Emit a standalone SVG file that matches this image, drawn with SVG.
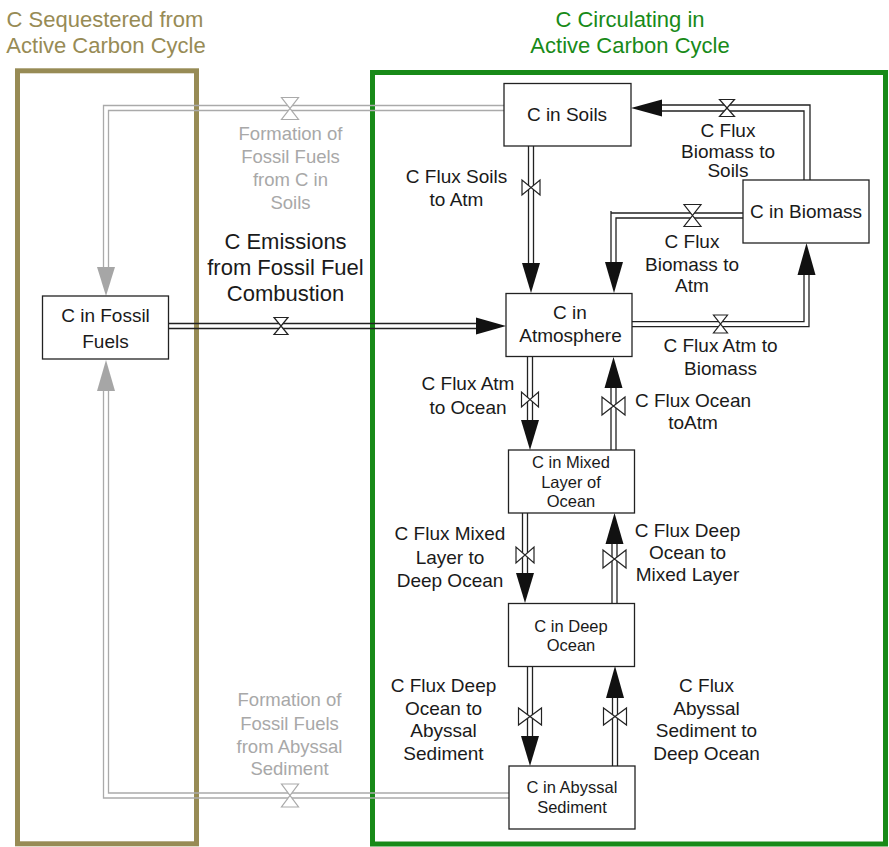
<svg xmlns="http://www.w3.org/2000/svg" width="889" height="847" viewBox="0 0 889 847">
<style>
text{font-family:"Liberation Sans",Arial,Helvetica,sans-serif;text-anchor:middle;fill:#1a1a1a}
.title{font-size:22px}
.tan{fill:#978b55}
.grn{fill:#188a18}
.em{font-size:22px}
.lbl{font-size:19px}
.gl{font-size:18.5px;fill:#a8a8a8}
.nl{font-size:19px}
.ns{font-size:16.5px}
.box{fill:#fff;stroke:#222;stroke-width:1.3}
.p{fill:none;stroke:#222;stroke-width:1.3}
.pg{fill:none;stroke:#aaa;stroke-width:1.3}
.ah{fill:#111;stroke:none}
.ahg{fill:#a6a6a6;stroke:none}
.v{fill:#fff;stroke:#222;stroke-width:1.2}
.vg{fill:#fff;stroke:#aaa;stroke-width:1.2}
</style>

<g id="boundaries">
<rect x="17.5" y="70.8" width="179" height="773" fill="none" stroke="#978b55" stroke-width="5"/>
<rect x="372.5" y="72.5" width="513" height="771.5" fill="none" stroke="#188a18" stroke-width="5"/>
</g>

<g id="titles">
<text class="title tan" x="105" y="27">C Sequestered from</text>
<text class="title tan" x="106" y="53">Active Carbon Cycle</text>
<text class="title grn" x="630" y="27">C Circulating in</text>
<text class="title grn" x="630" y="53">Active Carbon Cycle</text>
</g>

<g id="connectors">
<!-- emissions -->
<path class="p" d="M168,323.5 H478 M168,328.5 H478"/>
<path class="ah" d="M476,317.5 L506,326 L476,334.5 Z"/>
<path class="v" d="M274,317.5 H288 L274,334.5 H288 Z"/>
<!-- soils to atm -->
<path class="p" d="M528.5,146 V264 M533.5,146 V264"/>
<path class="ah" d="M522,263 L540,263 L531,293 Z"/>
<path class="v" d="M522,180 V195 L540,180 V195 Z"/>
<!-- biomass to soils -->
<path class="p" d="M810,180 V105 H662 M804,180 V111 H662"/>
<path class="ah" d="M662,99.5 L631,108 L662,116.5 Z"/>
<path class="v" d="M719.5,99.5 H734.5 L719.5,116.5 H734.5 Z"/>
<!-- biomass to atm -->
<path class="p" d="M743,213 H611 M611,211 V263 M743,218 H616 V263"/>
<path class="ah" d="M605,262 L623,262 L614,293 Z"/>
<path class="v" d="M684,204.5 H701 L684,226.5 H701 Z"/>
<!-- atm to biomass -->
<path class="p" d="M632,326.7 H809 V274 M632,321.7 H804 V274"/>
<path class="ah" d="M797.5,275 L815.5,275 L806.5,243 Z"/>
<path class="v" d="M713.5,315 H727.5 L713.5,333 H727.5 Z"/>
<!-- atm to mixed -->
<path class="p" d="M527.5,357 V421 M532.5,357 V421"/>
<path class="ah" d="M521,420 L539,420 L530,450 Z"/>
<path class="v" d="M521.5,392 V407 L538.5,392 V407 Z"/>
<!-- ocean to atm -->
<path class="p" d="M611,450 V387 M616,450 V387"/>
<path class="ah" d="M604.5,388 L622.5,388 L613.5,357 Z"/>
<path class="v" d="M602,397 V415 L625,397 V415 Z"/>
<!-- mixed to deep -->
<path class="p" d="M522.5,513 V574 M527.5,513 V574"/>
<path class="ah" d="M516,573 L534,573 L525,603 Z"/>
<path class="v" d="M516,547 V563 L534,547 V563 Z"/>
<!-- deep to mixed -->
<path class="p" d="M612,603 V543 M617,603 V543"/>
<path class="ah" d="M605.5,544 L623.5,544 L614.5,513 Z"/>
<path class="v" d="M603,550 V568 L626,550 V568 Z"/>
<!-- deep to abyssal -->
<path class="p" d="M527.5,666 V737 M532.5,666 V737"/>
<path class="ah" d="M521,736 L539,736 L530,766 Z"/>
<path class="v" d="M518.5,708 V725 L541.5,708 V725 Z"/>
<!-- abyssal to deep -->
<path class="p" d="M612.5,766 V697 M617.5,766 V697"/>
<path class="ah" d="M606,698 L624,698 L615,666 Z"/>
<path class="v" d="M603.5,708 V725 L626.5,708 V725 Z"/>
<!-- soils to fossil (gray) -->
<path class="pg" d="M504,105.5 H103.5 V268 M504,110.5 H108.5 V268"/>
<path class="ahg" d="M97,267 L115,267 L106,296 Z"/>
<path class="vg" d="M281.5,97.5 H298.5 L281.5,119.5 H298.5 Z"/>
<!-- abyssal to fossil (gray) -->
<path class="pg" d="M509,798 H103.5 V390 M509,793 H108.5 V390"/>
<path class="ahg" d="M97,391 L115,391 L106,360 Z"/>
<path class="vg" d="M281.5,784 H298.5 L281.5,807 H298.5 Z"/>
</g>

<g id="flux-labels">
<text class="em" x="285.5" y="248.5">C Emissions</text>
<text class="em" x="285.5" y="274.5">from Fossil Fuel</text>
<text class="em" x="285.5" y="301">Combustion</text>
<text class="lbl" x="456.5" y="183">C Flux Soils</text>
<text class="lbl" x="456.5" y="205.5">to Atm</text>
<text class="lbl" x="728" y="137">C Flux</text>
<text class="lbl" x="728" y="158">Biomass to</text>
<text class="lbl" x="728" y="177">Soils</text>
<text class="lbl" x="692" y="247.5">C Flux</text>
<text class="lbl" x="692" y="271">Biomass to</text>
<text class="lbl" x="692" y="292">Atm</text>
<text class="lbl" x="720.5" y="352">C Flux Atm to</text>
<text class="lbl" x="720.5" y="375">Biomass</text>
<text class="lbl" x="468" y="390">C Flux Atm</text>
<text class="lbl" x="468" y="413.5">to Ocean</text>
<text class="lbl" x="693" y="407">C Flux Ocean</text>
<text class="lbl" x="693" y="428.5">toAtm</text>
<text class="lbl" x="450" y="540">C Flux Mixed</text>
<text class="lbl" x="450" y="563.5">Layer to</text>
<text class="lbl" x="450" y="586.5">Deep Ocean</text>
<text class="lbl" x="687.5" y="537">C Flux Deep</text>
<text class="lbl" x="687.5" y="558.5">Ocean to</text>
<text class="lbl" x="687.5" y="581">Mixed Layer</text>
<text class="lbl" x="443.5" y="692">C Flux Deep</text>
<text class="lbl" x="443.5" y="714.5">Ocean to</text>
<text class="lbl" x="443.5" y="737">Abyssal</text>
<text class="lbl" x="443.5" y="760">Sediment</text>
<text class="lbl" x="706.5" y="692">C Flux</text>
<text class="lbl" x="706.5" y="714.5">Abyssal</text>
<text class="lbl" x="706.5" y="737">Sediment to</text>
<text class="lbl" x="706.5" y="760">Deep Ocean</text>
<text class="gl" x="290.5" y="140">Formation of</text>
<text class="gl" x="290.5" y="163">Fossil Fuels</text>
<text class="gl" x="290.5" y="186">from C in</text>
<text class="gl" x="290.5" y="208.5">Soils</text>
<text class="gl" x="289.5" y="706">Formation of</text>
<text class="gl" x="289.5" y="729.5">Fossil Fuels</text>
<text class="gl" x="289.5" y="752.5">from Abyssal</text>
<text class="gl" x="289.5" y="775">Sediment</text>
</g>

<g id="node-soils">
<rect class="box" x="504" y="83.5" width="127" height="62.5"/>
<text class="nl" x="567" y="120.5">C in Soils</text>
</g>
<g id="node-biomass">
<rect class="box" x="743" y="180" width="126" height="63"/>
<text class="nl" x="806" y="217.5">C in Biomass</text>
</g>
<g id="node-atmosphere">
<rect class="box" x="506" y="293.5" width="126" height="63"/>
<text class="nl" x="570" y="318.5">C in</text>
<text class="nl" x="570.5" y="342">Atmosphere</text>
</g>
<g id="node-mixed">
<rect class="box" x="508.5" y="450" width="126" height="63"/>
<text class="ns" x="571" y="468">C in Mixed</text>
<text class="ns" x="571" y="488">Layer of</text>
<text class="ns" x="571" y="507">Ocean</text>
</g>
<g id="node-deep">
<rect class="box" x="508.5" y="603.5" width="126" height="63"/>
<text class="ns" x="571" y="632">C in Deep</text>
<text class="ns" x="571" y="651">Ocean</text>
</g>
<g id="node-abyssal">
<rect class="box" x="509" y="766" width="126" height="63"/>
<text class="ns" x="572" y="793">C in Abyssal</text>
<text class="ns" x="572" y="813">Sediment</text>
</g>
<g id="node-fossil">
<rect class="box" x="42.5" y="296" width="126" height="63"/>
<text class="nl" x="105.5" y="322">C in Fossil</text>
<text class="nl" x="105.5" y="348">Fuels</text>
</g>
</svg>
